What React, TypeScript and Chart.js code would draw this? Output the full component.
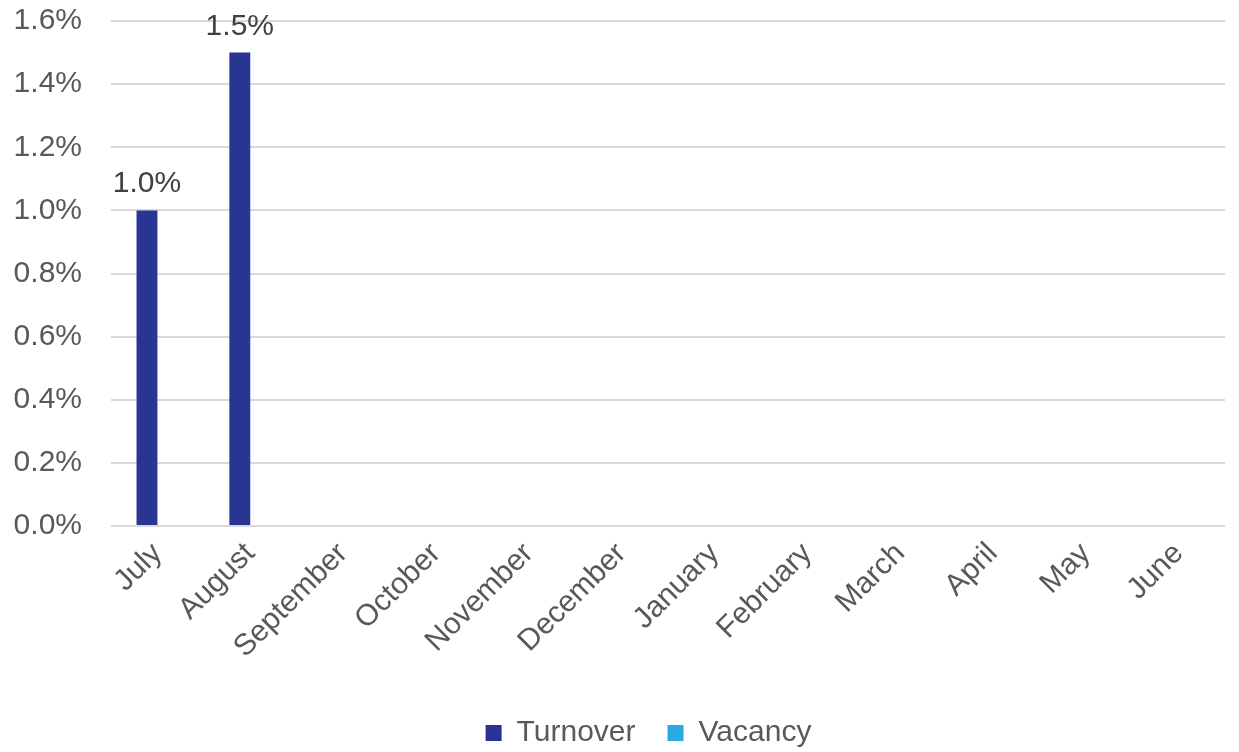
import React, { useEffect, useRef } from "react";
import { Chart, registerables } from "chart.js";

Chart.register(...registerables);

const categories = ["July", "August", "September", "October", "November", "December", "January", "February", "March", "April", "May", "June"];
const turnover: (number | null)[] = [1.0, 1.5, null, null, null, null, null, null, null, null, null, null];
const vacancy: (number | null)[] = [null, null, null, null, null, null, null, null, null, null, null, null];
const yTicks = [0, 0.2, 0.4, 0.6, 0.8, 1.0, 1.2, 1.4, 1.6];

const FONT = "'Liberation Sans', Arial, sans-serif";
const TEXT = "#595959";
const SIZE = 30;

const labelPlugin = {
  id: "barLabels",
  afterLayout(chart: any) {
    const lg = chart.legend;
    if (lg) {
      lg.left += 30;
      lg.right += 30;
    }
  },
  afterDatasetsDraw(chart: any) {
    const ctx = chart.ctx;
    const meta = chart.getDatasetMeta(0);
    ctx.save();
    ctx.font = `${SIZE}px ${FONT}`;
    ctx.fillStyle = "#404040";
    ctx.textAlign = "center";
    ctx.textBaseline = "alphabetic";
    meta.data.forEach((bar: any, i: number) => {
      const v = turnover[i];
      if (v == null) return;
      ctx.fillText(v.toFixed(1) + "%", bar.x, bar.y - 18);
    });
    ctx.restore();
  },
};

export default function App() {
  const ref = useRef<HTMLCanvasElement>(null);
  useEffect(() => {
    const chart = new Chart(ref.current!, {
      type: "bar",
      data: {
        labels: categories,
        datasets: [
          { label: "Turnover", data: turnover, backgroundColor: "#283593", categoryPercentage: 0.45, barPercentage: 1 },
          { label: "Vacancy", data: vacancy, backgroundColor: "#29ABE2", categoryPercentage: 0.45, barPercentage: 1 },
        ],
      },
      options: {
        animation: false,
        responsive: true,
        maintainAspectRatio: false,
        layout: { padding: { top: 21, right: 14, left: 12, bottom: -6 } },
        scales: {
          x: {
            grid: { display: false },
            border: { display: false },
            ticks: { font: { size: SIZE, family: FONT }, color: TEXT, maxRotation: 45, minRotation: 45, padding: 2 },
            afterFit: (s: any) => {
              s.paddingLeft = 0;
              s.paddingRight = 0;
              s.height = 160;
            },
          },
          y: {
            min: 0,
            max: 1.6,
            afterBuildTicks: (axis: any) => {
              axis.ticks = yTicks.map((v) => ({ value: v }));
            },
            afterFit: (s: any) => {
              s.paddingTop = 0;
              s.paddingBottom = 0;
              s.width = 99;
            },
            grid: { color: "#d9d9d9", lineWidth: 2, drawTicks: false },
            border: { display: false },
            ticks: {
              font: { size: SIZE, family: FONT },
              color: TEXT,
              padding: 29,
              callback: (v: any) => Number(v).toFixed(1) + "%",
            },
          },
        },
        plugins: {
          legend: {
            position: "bottom",
            labels: { font: { size: SIZE, family: FONT }, color: TEXT, boxWidth: 16, boxHeight: 16, padding: 32 },
          },
          tooltip: { enabled: false },
        },
      },
      plugins: [labelPlugin],
    });
    return () => chart.destroy();
  }, []);
  return (
    <div style={{ position: "absolute", left: 0, top: 0, width: 1239, height: 752, background: "#fff" }}>
      <canvas ref={ref} />
    </div>
  );
}
